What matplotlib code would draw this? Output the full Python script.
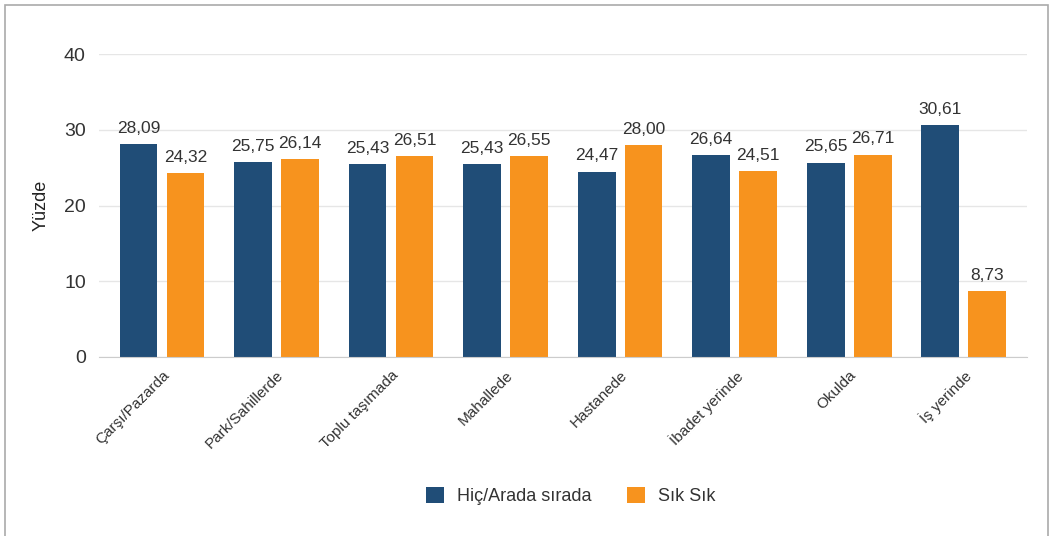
import matplotlib.pyplot as plt
import numpy as np
from matplotlib.patches import Rectangle

plt.rcParams['font.family'] = ['Liberation Sans', 'DejaVu Sans']

kategoriler = ["Çarşı/Pazarda", "Park/Sahillerde", "Toplu taşımada", "Mahallede",
               "Hastanede", "İbadet yerinde", "Okulda", "İş yerinde"]
hic_arada = [28.09, 25.75, 25.43, 25.43, 24.47, 26.64, 25.65, 30.61]
sik_sik = [24.32, 26.14, 26.51, 26.55, 28.00, 24.51, 26.71, 8.73]

mavi = "#204d77"
turuncu = "#f7931e"
yazi = "#333333"

fig = plt.figure(figsize=(10.53, 5.36), dpi=100)
ax = fig.add_axes([0.094, 0.334, 0.881, 0.565])

x = np.arange(len(kategoriler))
w = 0.33
b1 = ax.bar(x - 0.205, hic_arada, w, color=mavi, label="Hiç/Arada sırada", zorder=2)
b2 = ax.bar(x + 0.205, sik_sik, w, color=turuncu, label="Sık Sık", zorder=2)

# değer etiketleri
for bars, vals in [(b1, hic_arada), (b2, sik_sik)]:
    for r, v in zip(bars, vals):
        ax.text(r.get_x() + r.get_width() / 2, v + 1.1, f"{v:.2f}".replace(".", ","),
                ha="center", va="bottom", fontsize=12.5, color=yazi)

ax.set_ylim(0, 40)
ax.set_xlim(-0.55, len(kategoriler) - 0.45)
ax.set_yticks([0, 10, 20, 30, 40])
ax.grid(axis="y", color="#e6e6e6", linewidth=1, zorder=0)
for s in ["top", "right", "left"]:
    ax.spines[s].set_visible(False)
ax.spines["bottom"].set_color("#cccccc")
ax.tick_params(axis="y", length=0, labelsize=14, labelcolor=yazi, pad=9.5)
ax.tick_params(axis="x", length=0, labelsize=11, labelcolor=yazi, pad=8)
ax.set_xticks(x)
ax.set_xticklabels(kategoriler, rotation=45, ha="right", rotation_mode="anchor")
ax.set_ylabel("Yüzde", fontsize=13, color="#222222", labelpad=10)

fig.legend(handles=[b1, b2], loc="center", bbox_to_anchor=(0.542, 0.075), ncol=2,
           frameon=False, fontsize=13, handlelength=1.0, handleheight=1.0,
           columnspacing=2.0, handletextpad=0.7, labelcolor=yazi)

fig.patches.append(Rectangle((0.005, -0.01), 0.99, 1.0, transform=fig.transFigure,
                             fill=False, edgecolor="#aaaaaa", linewidth=1.2))

fig.savefig("out.png", dpi=100)
